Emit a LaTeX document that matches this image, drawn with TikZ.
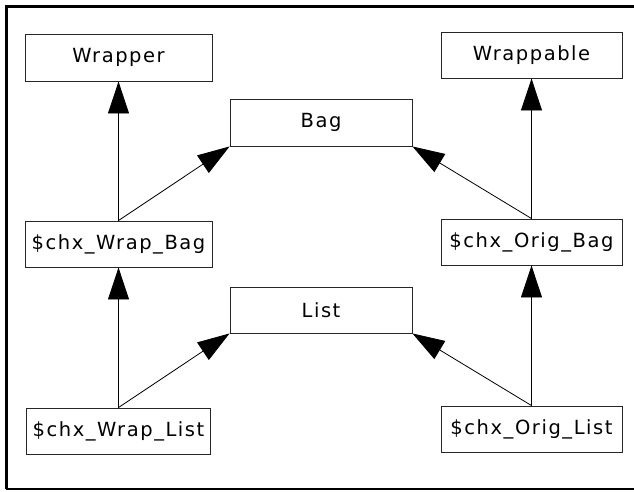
\documentclass[tikz,border=0pt]{standalone}
\usepackage{fontspec}
\setmainfont{DejaVu Sans}[LetterSpace=8]
\usetikzlibrary{arrows.meta}
\tikzset{
  cls/.style={draw=black!85, line width=0.9pt, inner sep=0pt, font=\fontsize{19.5}{21}\selectfont, text=black},
  inh/.style={line width=0.8pt, -{Triangle[length=32pt,width=21pt]}}
}
\begin{document}
\begin{tikzpicture}[x=1pt,y=-1pt]
\useasboundingbox (0,0) rectangle (634,491);
\fill[white] (0,0) rectangle (634,491);
\draw[line width=3pt] (6,489) -- (6,6) -- (634,6);
\draw[line width=1.2pt] (6,489) -- (634,489);
\node[cls, minimum width=187pt, minimum height=47pt] (wrapper) at (118.5,57.5) {Wrapper};
\node[cls, minimum width=181pt, minimum height=46pt] (wrappable) at (531.5,55) {Wrappable};
\node[cls, minimum width=182pt, minimum height=47pt] (bag) at (321,122.5) {Bag};
\node[cls, minimum width=187pt, minimum height=46pt] (wbag) at (118.5,244) {\$chx\_Wrap\_Bag};
\node[cls, minimum width=181pt, minimum height=46pt] (obag) at (531.5,242) {\$chx\_Orig\_Bag};
\node[cls, minimum width=182pt, minimum height=46pt] (list) at (321,310) {List};
\node[cls, minimum width=184pt, minimum height=46pt] (wlist) at (118.5,431) {\$chx\_Wrap\_List};
\node[cls, minimum width=181pt, minimum height=46pt] (olist) at (531.5,429) {\$chx\_Orig\_List};
\draw[inh] (wbag.north) -- (wrapper.south);
\draw[inh] (wbag.north) -- (bag.south west);
\draw[inh] (obag.north) -- (wrappable.south);
\draw[inh] (obag.north) -- (bag.south east);
\draw[inh] (wlist.north) -- (wbag.south);
\draw[inh] (wlist.north) -- (list.south west);
\draw[inh] (olist.north) -- (obag.south);
\draw[inh] (olist.north) -- (list.south east);
\end{tikzpicture}
\end{document}
